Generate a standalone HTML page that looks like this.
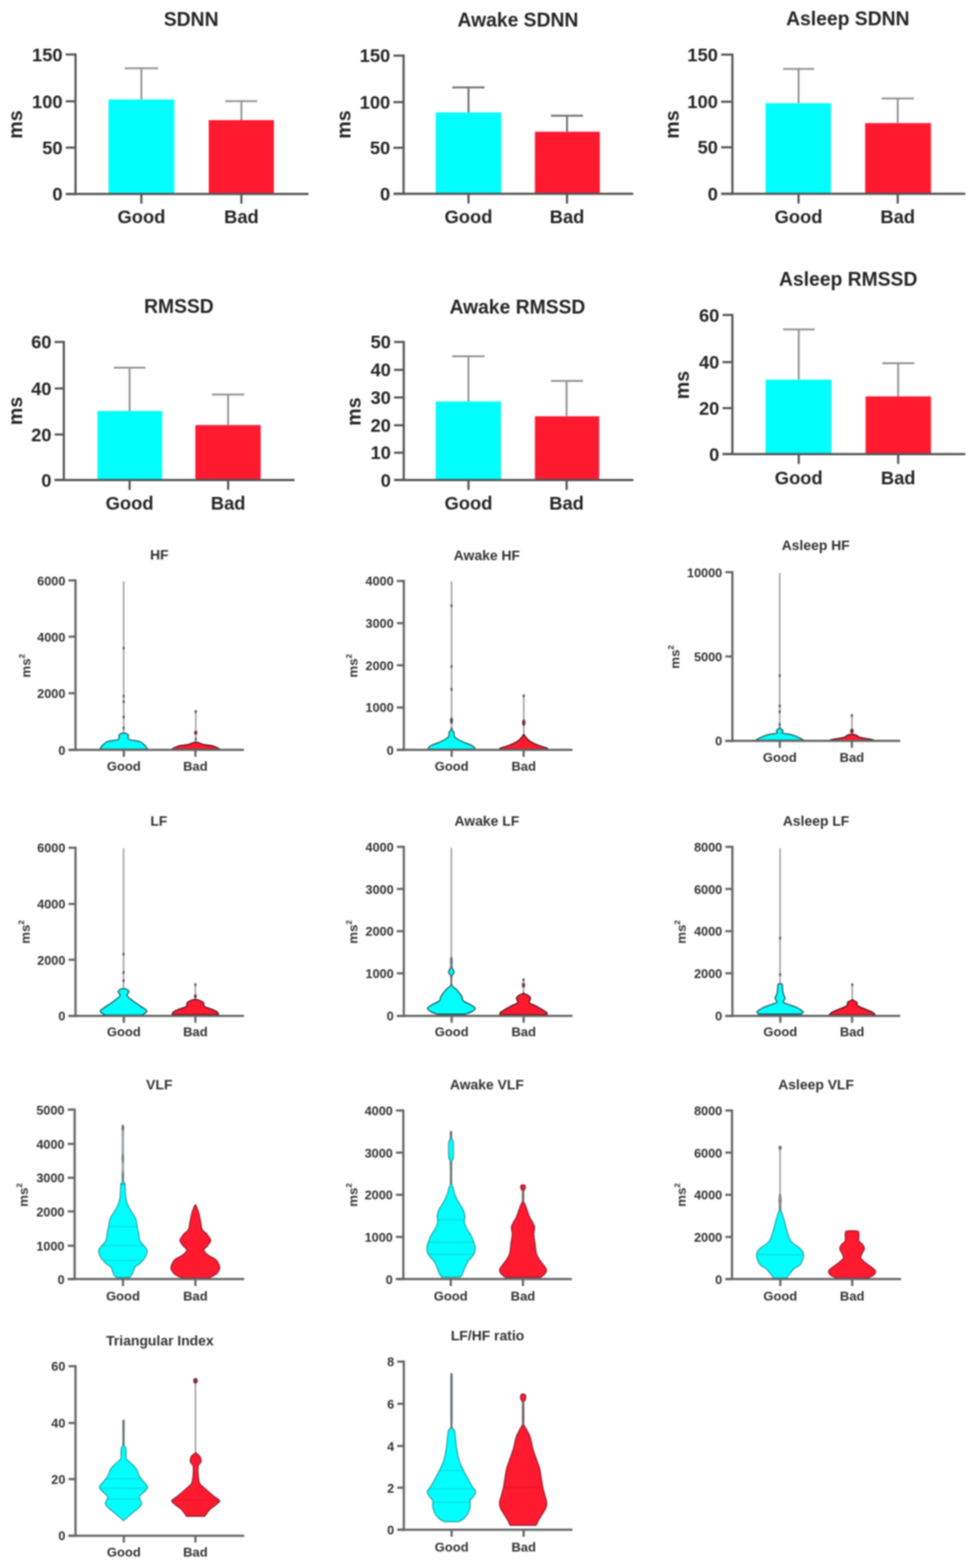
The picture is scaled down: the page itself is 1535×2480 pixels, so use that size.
<!DOCTYPE html>
<html><head><meta charset="utf-8"><title>HRV figure</title>
<style>html,body{margin:0;padding:0;background:#fff;} svg{display:block;filter:blur(0.8px);}</style>
</head><body>
<svg width="1535" height="2480" viewBox="0 0 1535 2480" font-family="'Liberation Sans', Arial, sans-serif">
<rect x="171.5" y="157.4" width="104.0" height="149.3" fill="#00FFFF"/>
<rect x="330.0" y="190.0" width="103.0" height="116.7" fill="#FF1A30"/>
<line x1="223.5" y1="157.4" x2="223.5" y2="108.0" stroke="#939393" stroke-width="3" stroke-linecap="butt"/>
<line x1="197.0" y1="108.0" x2="250.0" y2="108.0" stroke="#939393" stroke-width="3" stroke-linecap="butt"/>
<line x1="381.6" y1="190.0" x2="381.6" y2="160.0" stroke="#939393" stroke-width="3" stroke-linecap="butt"/>
<line x1="356.0" y1="160.0" x2="406.5" y2="160.0" stroke="#939393" stroke-width="3" stroke-linecap="butt"/>
<line x1="119.4" y1="84.5" x2="119.4" y2="308.4" stroke="#545454" stroke-width="3.4" stroke-linecap="butt"/>
<line x1="104.0" y1="86.2" x2="119.4" y2="86.2" stroke="#545454" stroke-width="3.4" stroke-linecap="butt"/>
<text x="99.0" y="96.5" font-size="29" text-anchor="end" font-weight="bold" fill="#262626" >150</text>
<line x1="104.0" y1="160.2" x2="119.4" y2="160.2" stroke="#545454" stroke-width="3.4" stroke-linecap="butt"/>
<text x="99.0" y="170.5" font-size="29" text-anchor="end" font-weight="bold" fill="#262626" >100</text>
<line x1="104.0" y1="233.5" x2="119.4" y2="233.5" stroke="#545454" stroke-width="3.4" stroke-linecap="butt"/>
<text x="99.0" y="243.8" font-size="29" text-anchor="end" font-weight="bold" fill="#262626" >50</text>
<line x1="104.0" y1="306.7" x2="119.4" y2="306.7" stroke="#545454" stroke-width="3.4" stroke-linecap="butt"/>
<text x="99.0" y="317.0" font-size="29" text-anchor="end" font-weight="bold" fill="#262626" >0</text>
<line x1="104.0" y1="306.7" x2="487.6" y2="306.7" stroke="#545454" stroke-width="3.4" stroke-linecap="butt"/>
<line x1="223.5" y1="306.7" x2="223.5" y2="322.2" stroke="#545454" stroke-width="3.4" stroke-linecap="butt"/>
<text x="223.5" y="352.5" font-size="29" text-anchor="middle" font-weight="bold" fill="#262626" >Good</text>
<line x1="381.6" y1="306.7" x2="381.6" y2="322.2" stroke="#545454" stroke-width="3.4" stroke-linecap="butt"/>
<text x="381.6" y="352.5" font-size="29" text-anchor="middle" font-weight="bold" fill="#262626" >Bad</text>
<text x="302.2" y="40.6" font-size="30.5" text-anchor="middle" font-weight="bold" fill="#262626" >SDNN</text>
<text x="0" y="0" font-size="31" text-anchor="middle" font-weight="bold" fill="#262626" transform="translate(34.8,197.0) rotate(-90)">ms</text>
<rect x="688.8" y="177.8" width="103.6" height="128.7" fill="#00FFFF"/>
<rect x="845.6" y="208.3" width="102.6" height="98.2" fill="#FF1A30"/>
<line x1="740.6" y1="177.8" x2="740.6" y2="138.2" stroke="#6e6e6e" stroke-width="3" stroke-linecap="butt"/>
<line x1="715.0" y1="138.2" x2="766.0" y2="138.2" stroke="#6e6e6e" stroke-width="3" stroke-linecap="butt"/>
<line x1="896.4" y1="208.3" x2="896.4" y2="182.9" stroke="#6e6e6e" stroke-width="3" stroke-linecap="butt"/>
<line x1="871.0" y1="182.9" x2="921.7" y2="182.9" stroke="#6e6e6e" stroke-width="3" stroke-linecap="butt"/>
<line x1="638.0" y1="86.3" x2="638.0" y2="308.2" stroke="#545454" stroke-width="3.4" stroke-linecap="butt"/>
<line x1="622.0" y1="88.0" x2="638.0" y2="88.0" stroke="#545454" stroke-width="3.4" stroke-linecap="butt"/>
<text x="617.0" y="98.3" font-size="29" text-anchor="end" font-weight="bold" fill="#262626" >150</text>
<line x1="622.0" y1="161.5" x2="638.0" y2="161.5" stroke="#545454" stroke-width="3.4" stroke-linecap="butt"/>
<text x="617.0" y="171.8" font-size="29" text-anchor="end" font-weight="bold" fill="#262626" >100</text>
<line x1="622.0" y1="233.7" x2="638.0" y2="233.7" stroke="#545454" stroke-width="3.4" stroke-linecap="butt"/>
<text x="617.0" y="244.0" font-size="29" text-anchor="end" font-weight="bold" fill="#262626" >50</text>
<line x1="622.0" y1="306.5" x2="638.0" y2="306.5" stroke="#545454" stroke-width="3.4" stroke-linecap="butt"/>
<text x="617.0" y="316.8" font-size="29" text-anchor="end" font-weight="bold" fill="#262626" >0</text>
<line x1="622.0" y1="306.5" x2="1001.0" y2="306.5" stroke="#545454" stroke-width="3.4" stroke-linecap="butt"/>
<line x1="740.6" y1="306.5" x2="740.6" y2="322.0" stroke="#545454" stroke-width="3.4" stroke-linecap="butt"/>
<text x="740.6" y="352.5" font-size="29" text-anchor="middle" font-weight="bold" fill="#262626" >Good</text>
<line x1="896.4" y1="306.5" x2="896.4" y2="322.0" stroke="#545454" stroke-width="3.4" stroke-linecap="butt"/>
<text x="896.4" y="352.5" font-size="29" text-anchor="middle" font-weight="bold" fill="#262626" >Bad</text>
<text x="818.8" y="42.3" font-size="30.5" text-anchor="middle" font-weight="bold" fill="#262626" >Awake SDNN</text>
<text x="0" y="0" font-size="31" text-anchor="middle" font-weight="bold" fill="#262626" transform="translate(554.0,197.0) rotate(-90)">ms</text>
<rect x="1210.3" y="163.2" width="103.3" height="143.3" fill="#00FFFF"/>
<rect x="1367.7" y="194.7" width="104.0" height="111.8" fill="#FF1A30"/>
<line x1="1262.4" y1="163.2" x2="1262.4" y2="109.0" stroke="#939393" stroke-width="3" stroke-linecap="butt"/>
<line x1="1238.0" y1="109.0" x2="1287.0" y2="109.0" stroke="#939393" stroke-width="3" stroke-linecap="butt"/>
<line x1="1419.2" y1="194.7" x2="1419.2" y2="155.8" stroke="#939393" stroke-width="3" stroke-linecap="butt"/>
<line x1="1393.8" y1="155.8" x2="1444.6" y2="155.8" stroke="#939393" stroke-width="3" stroke-linecap="butt"/>
<line x1="1157.8" y1="84.7" x2="1157.8" y2="308.2" stroke="#545454" stroke-width="3.4" stroke-linecap="butt"/>
<line x1="1140.0" y1="86.4" x2="1157.8" y2="86.4" stroke="#545454" stroke-width="3.4" stroke-linecap="butt"/>
<text x="1135.0" y="96.7" font-size="29" text-anchor="end" font-weight="bold" fill="#262626" >150</text>
<line x1="1140.0" y1="160.9" x2="1157.8" y2="160.9" stroke="#545454" stroke-width="3.4" stroke-linecap="butt"/>
<text x="1135.0" y="171.2" font-size="29" text-anchor="end" font-weight="bold" fill="#262626" >100</text>
<line x1="1140.0" y1="233.0" x2="1157.8" y2="233.0" stroke="#545454" stroke-width="3.4" stroke-linecap="butt"/>
<text x="1135.0" y="243.3" font-size="29" text-anchor="end" font-weight="bold" fill="#262626" >50</text>
<line x1="1140.0" y1="306.5" x2="1157.8" y2="306.5" stroke="#545454" stroke-width="3.4" stroke-linecap="butt"/>
<text x="1135.0" y="316.8" font-size="29" text-anchor="end" font-weight="bold" fill="#262626" >0</text>
<line x1="1140.0" y1="306.5" x2="1526.0" y2="306.5" stroke="#545454" stroke-width="3.4" stroke-linecap="butt"/>
<line x1="1262.4" y1="306.5" x2="1262.4" y2="322.0" stroke="#545454" stroke-width="3.4" stroke-linecap="butt"/>
<text x="1262.4" y="352.5" font-size="29" text-anchor="middle" font-weight="bold" fill="#262626" >Good</text>
<line x1="1419.2" y1="306.5" x2="1419.2" y2="322.0" stroke="#545454" stroke-width="3.4" stroke-linecap="butt"/>
<text x="1419.2" y="352.5" font-size="29" text-anchor="middle" font-weight="bold" fill="#262626" >Bad</text>
<text x="1340.3" y="40.3" font-size="30.5" text-anchor="middle" font-weight="bold" fill="#262626" >Asleep SDNN</text>
<text x="0" y="0" font-size="31" text-anchor="middle" font-weight="bold" fill="#262626" transform="translate(1073.0,197.0) rotate(-90)">ms</text>
<rect x="154.0" y="650.0" width="102.3" height="109.3" fill="#00FFFF"/>
<rect x="308.8" y="672.3" width="103.3" height="87.0" fill="#FF1A30"/>
<line x1="204.9" y1="650.0" x2="204.9" y2="581.5" stroke="#939393" stroke-width="3" stroke-linecap="butt"/>
<line x1="180.0" y1="581.5" x2="230.0" y2="581.5" stroke="#939393" stroke-width="3" stroke-linecap="butt"/>
<line x1="360.6" y1="672.3" x2="360.6" y2="623.9" stroke="#939393" stroke-width="3" stroke-linecap="butt"/>
<line x1="335.0" y1="623.9" x2="386.0" y2="623.9" stroke="#939393" stroke-width="3" stroke-linecap="butt"/>
<line x1="100.9" y1="539.2" x2="100.9" y2="761.0" stroke="#545454" stroke-width="3.4" stroke-linecap="butt"/>
<line x1="86.4" y1="540.9" x2="100.9" y2="540.9" stroke="#545454" stroke-width="3.4" stroke-linecap="butt"/>
<text x="81.4" y="551.2" font-size="29" text-anchor="end" font-weight="bold" fill="#262626" >60</text>
<line x1="86.4" y1="614.4" x2="100.9" y2="614.4" stroke="#545454" stroke-width="3.4" stroke-linecap="butt"/>
<text x="81.4" y="624.7" font-size="29" text-anchor="end" font-weight="bold" fill="#262626" >40</text>
<line x1="86.4" y1="687.2" x2="100.9" y2="687.2" stroke="#545454" stroke-width="3.4" stroke-linecap="butt"/>
<text x="81.4" y="697.5" font-size="29" text-anchor="end" font-weight="bold" fill="#262626" >20</text>
<line x1="86.4" y1="759.3" x2="100.9" y2="759.3" stroke="#545454" stroke-width="3.4" stroke-linecap="butt"/>
<text x="81.4" y="769.6" font-size="29" text-anchor="end" font-weight="bold" fill="#262626" >0</text>
<line x1="86.4" y1="759.3" x2="465.6" y2="759.3" stroke="#545454" stroke-width="3.4" stroke-linecap="butt"/>
<line x1="204.9" y1="759.3" x2="204.9" y2="774.8" stroke="#545454" stroke-width="3.4" stroke-linecap="butt"/>
<text x="204.9" y="805.7" font-size="29" text-anchor="middle" font-weight="bold" fill="#262626" >Good</text>
<line x1="360.6" y1="759.3" x2="360.6" y2="774.8" stroke="#545454" stroke-width="3.4" stroke-linecap="butt"/>
<text x="360.6" y="805.7" font-size="29" text-anchor="middle" font-weight="bold" fill="#262626" >Bad</text>
<text x="282.8" y="494.9" font-size="30.5" text-anchor="middle" font-weight="bold" fill="#262626" >RMSSD</text>
<text x="0" y="0" font-size="31" text-anchor="middle" font-weight="bold" fill="#262626" transform="translate(35.0,650.0) rotate(-90)">ms</text>
<rect x="688.8" y="635.0" width="103.2" height="124.3" fill="#00FFFF"/>
<rect x="845.6" y="658.4" width="101.6" height="100.9" fill="#FF1A30"/>
<line x1="740.6" y1="635.0" x2="740.6" y2="563.6" stroke="#939393" stroke-width="3" stroke-linecap="butt"/>
<line x1="715.0" y1="563.6" x2="766.0" y2="563.6" stroke="#939393" stroke-width="3" stroke-linecap="butt"/>
<line x1="895.7" y1="658.4" x2="895.7" y2="602.5" stroke="#939393" stroke-width="3" stroke-linecap="butt"/>
<line x1="871.0" y1="602.5" x2="921.7" y2="602.5" stroke="#939393" stroke-width="3" stroke-linecap="butt"/>
<line x1="638.3" y1="539.2" x2="638.3" y2="761.0" stroke="#545454" stroke-width="3.4" stroke-linecap="butt"/>
<line x1="623.0" y1="540.9" x2="638.3" y2="540.9" stroke="#545454" stroke-width="3.4" stroke-linecap="butt"/>
<text x="618.0" y="551.2" font-size="29" text-anchor="end" font-weight="bold" fill="#262626" >50</text>
<line x1="623.0" y1="585.0" x2="638.3" y2="585.0" stroke="#545454" stroke-width="3.4" stroke-linecap="butt"/>
<text x="618.0" y="595.3" font-size="29" text-anchor="end" font-weight="bold" fill="#262626" >40</text>
<line x1="623.0" y1="628.6" x2="638.3" y2="628.6" stroke="#545454" stroke-width="3.4" stroke-linecap="butt"/>
<text x="618.0" y="638.9" font-size="29" text-anchor="end" font-weight="bold" fill="#262626" >30</text>
<line x1="623.0" y1="672.6" x2="638.3" y2="672.6" stroke="#545454" stroke-width="3.4" stroke-linecap="butt"/>
<text x="618.0" y="682.9" font-size="29" text-anchor="end" font-weight="bold" fill="#262626" >20</text>
<line x1="623.0" y1="716.0" x2="638.3" y2="716.0" stroke="#545454" stroke-width="3.4" stroke-linecap="butt"/>
<text x="618.0" y="726.3" font-size="29" text-anchor="end" font-weight="bold" fill="#262626" >10</text>
<line x1="623.0" y1="759.3" x2="638.3" y2="759.3" stroke="#545454" stroke-width="3.4" stroke-linecap="butt"/>
<text x="618.0" y="769.6" font-size="29" text-anchor="end" font-weight="bold" fill="#262626" >0</text>
<line x1="623.0" y1="759.3" x2="1001.3" y2="759.3" stroke="#545454" stroke-width="3.4" stroke-linecap="butt"/>
<line x1="740.6" y1="759.3" x2="740.6" y2="774.8" stroke="#545454" stroke-width="3.4" stroke-linecap="butt"/>
<text x="740.6" y="805.7" font-size="29" text-anchor="middle" font-weight="bold" fill="#262626" >Good</text>
<line x1="895.7" y1="759.3" x2="895.7" y2="774.8" stroke="#545454" stroke-width="3.4" stroke-linecap="butt"/>
<text x="895.7" y="805.7" font-size="29" text-anchor="middle" font-weight="bold" fill="#262626" >Bad</text>
<text x="818.0" y="495.9" font-size="30.5" text-anchor="middle" font-weight="bold" fill="#262626" >Awake RMSSD</text>
<text x="0" y="0" font-size="31" text-anchor="middle" font-weight="bold" fill="#262626" transform="translate(570.0,651.0) rotate(-90)">ms</text>
<rect x="1210.3" y="600.5" width="103.9" height="117.8" fill="#00FFFF"/>
<rect x="1368.4" y="626.9" width="103.3" height="91.4" fill="#FF1A30"/>
<line x1="1262.7" y1="600.5" x2="1262.7" y2="520.9" stroke="#939393" stroke-width="3" stroke-linecap="butt"/>
<line x1="1238.0" y1="520.9" x2="1288.0" y2="520.9" stroke="#939393" stroke-width="3" stroke-linecap="butt"/>
<line x1="1419.9" y1="626.9" x2="1419.9" y2="574.4" stroke="#939393" stroke-width="3" stroke-linecap="butt"/>
<line x1="1394.8" y1="574.4" x2="1445.6" y2="574.4" stroke="#939393" stroke-width="3" stroke-linecap="butt"/>
<line x1="1157.8" y1="496.5" x2="1157.8" y2="720.0" stroke="#545454" stroke-width="3.4" stroke-linecap="butt"/>
<line x1="1142.2" y1="498.2" x2="1157.8" y2="498.2" stroke="#545454" stroke-width="3.4" stroke-linecap="butt"/>
<text x="1137.2" y="508.5" font-size="29" text-anchor="end" font-weight="bold" fill="#262626" >60</text>
<line x1="1142.2" y1="572.7" x2="1157.8" y2="572.7" stroke="#545454" stroke-width="3.4" stroke-linecap="butt"/>
<text x="1137.2" y="583.0" font-size="29" text-anchor="end" font-weight="bold" fill="#262626" >40</text>
<line x1="1142.2" y1="645.5" x2="1157.8" y2="645.5" stroke="#545454" stroke-width="3.4" stroke-linecap="butt"/>
<text x="1137.2" y="655.8" font-size="29" text-anchor="end" font-weight="bold" fill="#262626" >20</text>
<line x1="1142.2" y1="718.3" x2="1157.8" y2="718.3" stroke="#545454" stroke-width="3.4" stroke-linecap="butt"/>
<text x="1137.2" y="728.6" font-size="29" text-anchor="end" font-weight="bold" fill="#262626" >0</text>
<line x1="1142.2" y1="718.3" x2="1526.0" y2="718.3" stroke="#545454" stroke-width="3.4" stroke-linecap="butt"/>
<line x1="1262.7" y1="718.3" x2="1262.7" y2="733.8" stroke="#545454" stroke-width="3.4" stroke-linecap="butt"/>
<text x="1262.7" y="765.7" font-size="29" text-anchor="middle" font-weight="bold" fill="#262626" >Good</text>
<line x1="1419.9" y1="718.3" x2="1419.9" y2="733.8" stroke="#545454" stroke-width="3.4" stroke-linecap="butt"/>
<text x="1419.9" y="765.7" font-size="29" text-anchor="middle" font-weight="bold" fill="#262626" >Bad</text>
<text x="1340.9" y="451.5" font-size="30.5" text-anchor="middle" font-weight="bold" fill="#262626" >Asleep RMSSD</text>
<text x="0" y="0" font-size="31" text-anchor="middle" font-weight="bold" fill="#262626" transform="translate(1089.0,609.0) rotate(-90)">ms</text>
<line x1="195.5" y1="919.4" x2="195.5" y2="1160.0" stroke="#8e8e8e" stroke-width="2.0" stroke-linecap="butt"/>
<line x1="309.5" y1="1124.4" x2="309.5" y2="1174.0" stroke="#8e8e8e" stroke-width="2.0" stroke-linecap="butt"/>
<path d="M200.50,1160.50 C200.93,1160.92 202.77,1161.92 203.10,1163.00 C203.43,1164.08 202.10,1165.83 202.50,1167.00 C202.90,1168.17 202.33,1169.00 205.50,1170.00 C208.67,1171.00 217.50,1171.42 221.50,1173.00 C225.50,1174.58 227.55,1177.53 229.50,1179.50 C231.45,1181.47 232.58,1183.92 233.20,1184.80 L157.80,1184.80 C158.42,1183.92 159.55,1181.47 161.50,1179.50 C163.45,1177.53 165.50,1174.58 169.50,1173.00 C173.50,1171.42 182.33,1171.00 185.50,1170.00 C188.67,1169.00 188.10,1168.17 188.50,1167.00 C188.90,1165.83 187.57,1164.08 187.90,1163.00 C188.23,1161.92 190.07,1160.92 190.50,1160.50 Q195.50,1158.10 200.50,1160.50 Z" fill="#00FFFF" stroke="#1d5555" stroke-width="1.8" stroke-linejoin="round"/>
<path d="M316.50,1175.50 C317.67,1175.92 320.00,1177.25 323.50,1178.00 C327.00,1178.75 333.50,1178.87 337.50,1180.00 C341.50,1181.13 345.83,1184.00 347.50,1184.80 L271.50,1184.80 C273.17,1184.00 277.50,1181.13 281.50,1180.00 C285.50,1178.87 292.00,1178.75 295.50,1178.00 C299.00,1177.25 301.33,1175.92 302.50,1175.50 Q309.50,1172.30 316.50,1175.50 Z" fill="#FF1A30" stroke="#4a0c14" stroke-width="1.8" stroke-linejoin="round"/>
<ellipse cx="195.5" cy="1025.0" rx="1.8" ry="2.6" fill="#555555"/>
<ellipse cx="195.5" cy="1101.0" rx="1.8" ry="2.6" fill="#555555"/>
<ellipse cx="195.5" cy="1109.7" rx="1.8" ry="2.6" fill="#555555"/>
<ellipse cx="195.5" cy="1133.9" rx="1.8" ry="2.6" fill="#555555"/>
<ellipse cx="195.5" cy="1151.4" rx="1.8" ry="2.6" fill="#555555"/>
<ellipse cx="309.5" cy="1125.3" rx="1.8" ry="2.6" fill="#555555"/>
<ellipse cx="309.5" cy="1159.0" rx="2.6" ry="3.2" fill="#7a2a38"/>
<ellipse cx="309.5" cy="1169.0" rx="1.8" ry="2.6" fill="#555555"/>
<line x1="119.4" y1="916.2" x2="119.4" y2="1187.8" stroke="#666666" stroke-width="3.5" stroke-linecap="butt"/>
<line x1="108.3" y1="918.0" x2="119.4" y2="918.0" stroke="#666666" stroke-width="3.5" stroke-linecap="butt"/>
<text x="103.3" y="925.5" font-size="20" text-anchor="end" font-weight="bold" fill="#333333" >6000</text>
<line x1="108.3" y1="1007.0" x2="119.4" y2="1007.0" stroke="#666666" stroke-width="3.5" stroke-linecap="butt"/>
<text x="103.3" y="1014.5" font-size="20" text-anchor="end" font-weight="bold" fill="#333333" >4000</text>
<line x1="108.3" y1="1096.4" x2="119.4" y2="1096.4" stroke="#666666" stroke-width="3.5" stroke-linecap="butt"/>
<text x="103.3" y="1103.9" font-size="20" text-anchor="end" font-weight="bold" fill="#333333" >2000</text>
<line x1="108.3" y1="1186.0" x2="119.4" y2="1186.0" stroke="#666666" stroke-width="3.5" stroke-linecap="butt"/>
<text x="103.3" y="1193.5" font-size="20" text-anchor="end" font-weight="bold" fill="#333333" >0</text>
<line x1="108.3" y1="1186.0" x2="385.6" y2="1186.0" stroke="#666666" stroke-width="3.5" stroke-linecap="butt"/>
<line x1="195.8" y1="1186.0" x2="195.8" y2="1197.0" stroke="#666666" stroke-width="3.5" stroke-linecap="butt"/>
<text x="195.8" y="1219.4" font-size="20.5" text-anchor="middle" font-weight="bold" fill="#333333" >Good</text>
<line x1="308.9" y1="1186.0" x2="308.9" y2="1197.0" stroke="#666666" stroke-width="3.5" stroke-linecap="butt"/>
<text x="308.9" y="1219.4" font-size="20.5" text-anchor="middle" font-weight="bold" fill="#333333" >Bad</text>
<text x="251.8" y="884.7" font-size="22" text-anchor="middle" font-weight="bold" fill="#333333" >HF</text>
<text x="0" y="0" font-size="21" text-anchor="middle" font-weight="bold" fill="#333333" transform="translate(48.0,1053.0) rotate(-90)">ms<tspan font-size="13" dy="-9">2</tspan></text>
<line x1="713.8" y1="919.4" x2="713.8" y2="1153.0" stroke="#8e8e8e" stroke-width="2.0" stroke-linecap="butt"/>
<line x1="828.0" y1="1100.4" x2="828.0" y2="1162.0" stroke="#8e8e8e" stroke-width="2.0" stroke-linecap="butt"/>
<path d="M714.90,1155.00 C715.38,1155.60 717.25,1157.03 717.80,1158.60 C718.35,1160.17 716.93,1162.47 718.20,1164.40 C719.47,1166.33 722.63,1168.50 725.40,1170.20 C728.17,1171.90 731.40,1173.13 734.80,1174.60 C738.20,1176.07 743.13,1177.55 745.80,1179.00 C748.47,1180.45 749.97,1182.30 750.80,1183.30 C751.63,1184.30 750.80,1184.72 750.80,1185.00 L676.80,1185.00 C676.80,1184.72 675.97,1184.30 676.80,1183.30 C677.63,1182.30 679.13,1180.45 681.80,1179.00 C684.47,1177.55 689.40,1176.07 692.80,1174.60 C696.20,1173.13 699.43,1171.90 702.20,1170.20 C704.97,1168.50 708.13,1166.33 709.40,1164.40 C710.67,1162.47 709.25,1160.17 709.80,1158.60 C710.35,1157.03 712.22,1155.60 712.70,1155.00 Q713.80,1151.32 714.90,1155.00 Z" fill="#00FFFF" stroke="#1d5555" stroke-width="1.8" stroke-linejoin="round"/>
<path d="M829.10,1163.00 C829.65,1163.72 830.77,1165.63 832.40,1167.30 C834.03,1168.97 835.63,1171.05 838.90,1173.00 C842.17,1174.95 847.65,1177.28 852.00,1179.00 C856.35,1180.72 862.83,1182.30 865.00,1183.30 C867.17,1184.30 865.00,1184.72 865.00,1185.00 L791.00,1185.00 C791.00,1184.72 788.83,1184.30 791.00,1183.30 C793.17,1182.30 799.65,1180.72 804.00,1179.00 C808.35,1177.28 813.83,1174.95 817.10,1173.00 C820.37,1171.05 821.97,1168.97 823.60,1167.30 C825.23,1165.63 826.35,1163.72 826.90,1163.00 Q828.00,1159.80 829.10,1163.00 Z" fill="#FF1A30" stroke="#4a0c14" stroke-width="1.8" stroke-linejoin="round"/>
<ellipse cx="713.8" cy="958.0" rx="1.8" ry="2.6" fill="#555555"/>
<ellipse cx="713.8" cy="1054.0" rx="1.8" ry="2.6" fill="#555555"/>
<ellipse cx="713.8" cy="1090.2" rx="1.8" ry="2.6" fill="#555555"/>
<ellipse cx="713.8" cy="1140.0" rx="2.4" ry="5" fill="#505050"/>
<ellipse cx="713.8" cy="1152.7" rx="1.8" ry="2.6" fill="#555555"/>
<ellipse cx="828.0" cy="1100.6" rx="1.8" ry="2.6" fill="#555555"/>
<ellipse cx="828.0" cy="1143.0" rx="2.6" ry="5" fill="#6a2a34"/>
<line x1="638.4" y1="917.1" x2="638.4" y2="1187.8" stroke="#666666" stroke-width="3.5" stroke-linecap="butt"/>
<line x1="627.3" y1="918.9" x2="638.4" y2="918.9" stroke="#666666" stroke-width="3.5" stroke-linecap="butt"/>
<text x="622.3" y="926.4" font-size="20" text-anchor="end" font-weight="bold" fill="#333333" >4000</text>
<line x1="627.3" y1="985.6" x2="638.4" y2="985.6" stroke="#666666" stroke-width="3.5" stroke-linecap="butt"/>
<text x="622.3" y="993.1" font-size="20" text-anchor="end" font-weight="bold" fill="#333333" >3000</text>
<line x1="627.3" y1="1052.2" x2="638.4" y2="1052.2" stroke="#666666" stroke-width="3.5" stroke-linecap="butt"/>
<text x="622.3" y="1059.7" font-size="20" text-anchor="end" font-weight="bold" fill="#333333" >2000</text>
<line x1="627.3" y1="1118.9" x2="638.4" y2="1118.9" stroke="#666666" stroke-width="3.5" stroke-linecap="butt"/>
<text x="622.3" y="1126.4" font-size="20" text-anchor="end" font-weight="bold" fill="#333333" >1000</text>
<line x1="627.3" y1="1186.0" x2="638.4" y2="1186.0" stroke="#666666" stroke-width="3.5" stroke-linecap="butt"/>
<text x="622.3" y="1193.5" font-size="20" text-anchor="end" font-weight="bold" fill="#333333" >0</text>
<line x1="627.3" y1="1186.0" x2="905.0" y2="1186.0" stroke="#666666" stroke-width="3.5" stroke-linecap="butt"/>
<line x1="714.0" y1="1186.0" x2="714.0" y2="1197.0" stroke="#666666" stroke-width="3.5" stroke-linecap="butt"/>
<text x="714.0" y="1219.4" font-size="20.5" text-anchor="middle" font-weight="bold" fill="#333333" >Good</text>
<line x1="827.8" y1="1186.0" x2="827.8" y2="1197.0" stroke="#666666" stroke-width="3.5" stroke-linecap="butt"/>
<text x="827.8" y="1219.4" font-size="20.5" text-anchor="middle" font-weight="bold" fill="#333333" >Bad</text>
<text x="769.7" y="885.6" font-size="22" text-anchor="middle" font-weight="bold" fill="#333333" >Awake HF</text>
<text x="0" y="0" font-size="21" text-anchor="middle" font-weight="bold" fill="#333333" transform="translate(564.5,1053.0) rotate(-90)">ms<tspan font-size="13" dy="-9">2</tspan></text>
<line x1="1232.6" y1="906.4" x2="1232.6" y2="1151.0" stroke="#8e8e8e" stroke-width="2.0" stroke-linecap="butt"/>
<line x1="1346.8" y1="1131.3" x2="1346.8" y2="1161.0" stroke="#8e8e8e" stroke-width="2.0" stroke-linecap="butt"/>
<path d="M1233.70,1152.00 C1234.42,1152.67 1237.52,1154.75 1238.00,1156.00 C1238.48,1157.25 1234.50,1158.53 1236.60,1159.50 C1238.70,1160.47 1246.27,1160.68 1250.60,1161.80 C1254.93,1162.92 1259.30,1164.73 1262.60,1166.20 C1265.90,1167.67 1269.10,1169.87 1270.40,1170.60 L1194.80,1170.60 C1196.10,1169.87 1199.30,1167.67 1202.60,1166.20 C1205.90,1164.73 1210.27,1162.92 1214.60,1161.80 C1218.93,1160.68 1226.50,1160.47 1228.60,1159.50 C1230.70,1158.53 1226.72,1157.25 1227.20,1156.00 C1227.68,1154.75 1230.78,1152.67 1231.50,1152.00 Q1232.60,1148.80 1233.70,1152.00 Z" fill="#00FFFF" stroke="#1d5555" stroke-width="1.8" stroke-linejoin="round"/>
<path d="M1354.80,1163.30 C1355.53,1163.78 1355.87,1165.25 1359.20,1166.20 C1362.53,1167.15 1370.70,1168.20 1374.80,1169.00 C1378.90,1169.80 1382.30,1170.67 1383.80,1171.00 L1309.80,1171.00 C1311.30,1170.67 1314.70,1169.80 1318.80,1169.00 C1322.90,1168.20 1331.07,1167.15 1334.40,1166.20 C1337.73,1165.25 1338.07,1163.78 1338.80,1163.30 Q1346.80,1158.82 1354.80,1163.30 Z" fill="#FF1A30" stroke="#4a0c14" stroke-width="1.8" stroke-linejoin="round"/>
<ellipse cx="1232.6" cy="1068.7" rx="1.8" ry="2.6" fill="#555555"/>
<ellipse cx="1232.6" cy="1116.7" rx="1.8" ry="2.6" fill="#555555"/>
<ellipse cx="1232.6" cy="1125.5" rx="1.8" ry="2.6" fill="#555555"/>
<ellipse cx="1232.6" cy="1145.8" rx="1.8" ry="2.6" fill="#555555"/>
<ellipse cx="1346.8" cy="1131.6" rx="1.8" ry="2.6" fill="#555555"/>
<ellipse cx="1346.8" cy="1156.0" rx="3" ry="3.6" fill="#6a2a34"/>
<line x1="1157.8" y1="903.2" x2="1157.8" y2="1173.5" stroke="#666666" stroke-width="3.5" stroke-linecap="butt"/>
<line x1="1146.7" y1="905.0" x2="1157.8" y2="905.0" stroke="#666666" stroke-width="3.5" stroke-linecap="butt"/>
<text x="1141.7" y="912.5" font-size="20" text-anchor="end" font-weight="bold" fill="#333333" >10000</text>
<line x1="1146.7" y1="1038.3" x2="1157.8" y2="1038.3" stroke="#666666" stroke-width="3.5" stroke-linecap="butt"/>
<text x="1141.7" y="1045.8" font-size="20" text-anchor="end" font-weight="bold" fill="#333333" >5000</text>
<line x1="1146.7" y1="1171.7" x2="1157.8" y2="1171.7" stroke="#666666" stroke-width="3.5" stroke-linecap="butt"/>
<text x="1141.7" y="1179.2" font-size="20" text-anchor="end" font-weight="bold" fill="#333333" >0</text>
<line x1="1146.7" y1="1171.7" x2="1423.0" y2="1171.7" stroke="#666666" stroke-width="3.5" stroke-linecap="butt"/>
<line x1="1232.8" y1="1171.7" x2="1232.8" y2="1182.7" stroke="#666666" stroke-width="3.5" stroke-linecap="butt"/>
<text x="1232.8" y="1205.0" font-size="20.5" text-anchor="middle" font-weight="bold" fill="#333333" >Good</text>
<line x1="1346.7" y1="1171.7" x2="1346.7" y2="1182.7" stroke="#666666" stroke-width="3.5" stroke-linecap="butt"/>
<text x="1346.7" y="1205.0" font-size="20.5" text-anchor="middle" font-weight="bold" fill="#333333" >Bad</text>
<text x="1289.5" y="869.5" font-size="22" text-anchor="middle" font-weight="bold" fill="#333333" >Asleep HF</text>
<text x="0" y="0" font-size="21" text-anchor="middle" font-weight="bold" fill="#333333" transform="translate(1073.6,1039.0) rotate(-90)">ms<tspan font-size="13" dy="-9">2</tspan></text>
<line x1="195.3" y1="1341.7" x2="195.3" y2="1564.0" stroke="#8e8e8e" stroke-width="2.0" stroke-linecap="butt"/>
<line x1="308.8" y1="1557.0" x2="308.8" y2="1581.0" stroke="#8e8e8e" stroke-width="2.0" stroke-linecap="butt"/>
<path d="M200.30,1564.50 C200.92,1565.18 203.93,1566.95 204.00,1568.60 C204.07,1570.25 200.27,1572.47 200.70,1574.40 C201.13,1576.33 204.00,1578.02 206.60,1580.20 C209.20,1582.38 212.85,1585.07 216.30,1587.50 C219.75,1589.93 224.63,1592.88 227.30,1594.80 C229.97,1596.72 232.18,1597.55 232.30,1599.00 C232.42,1600.45 229.50,1602.42 228.00,1603.50 C226.50,1604.58 224.08,1605.17 223.30,1605.50 L167.30,1605.50 C166.52,1605.17 164.10,1604.58 162.60,1603.50 C161.10,1602.42 158.18,1600.45 158.30,1599.00 C158.42,1597.55 160.63,1596.72 163.30,1594.80 C165.97,1592.88 170.85,1589.93 174.30,1587.50 C177.75,1585.07 181.40,1582.38 184.00,1580.20 C186.60,1578.02 189.47,1576.33 189.90,1574.40 C190.33,1572.47 186.53,1570.25 186.60,1568.60 C186.67,1566.95 189.68,1565.18 190.30,1564.50 Q195.30,1562.90 200.30,1564.50 Z" fill="#00FFFF" stroke="#1d5555" stroke-width="1.8" stroke-linejoin="round"/>
<path d="M317.50,1583.00 C318.22,1583.50 320.83,1584.52 321.80,1586.00 C322.77,1587.48 321.13,1590.20 323.30,1591.90 C325.47,1593.60 331.38,1594.75 334.80,1596.20 C338.22,1597.65 342.02,1599.13 343.80,1600.60 C345.58,1602.07 345.22,1604.27 345.50,1605.00 L272.10,1605.00 C272.38,1604.27 272.02,1602.07 273.80,1600.60 C275.58,1599.13 279.38,1597.65 282.80,1596.20 C286.22,1594.75 292.13,1593.60 294.30,1591.90 C296.47,1590.20 294.83,1587.48 295.80,1586.00 C296.77,1584.52 299.38,1583.50 300.10,1583.00 Q308.80,1578.20 317.50,1583.00 Z" fill="#FF1A30" stroke="#4a0c14" stroke-width="1.8" stroke-linejoin="round"/>
<ellipse cx="195.3" cy="1508.9" rx="1.8" ry="2.6" fill="#555555"/>
<ellipse cx="195.3" cy="1538.0" rx="1.8" ry="2.6" fill="#555555"/>
<ellipse cx="195.3" cy="1551.0" rx="1.8" ry="2.6" fill="#555555"/>
<ellipse cx="308.8" cy="1557.3" rx="1.8" ry="2.6" fill="#555555"/>
<ellipse cx="308.8" cy="1575.8" rx="2.4" ry="3" fill="#6a3a40"/>
<line x1="119.4" y1="1339.0" x2="119.4" y2="1608.5" stroke="#666666" stroke-width="3.5" stroke-linecap="butt"/>
<line x1="108.3" y1="1340.8" x2="119.4" y2="1340.8" stroke="#666666" stroke-width="3.5" stroke-linecap="butt"/>
<text x="103.3" y="1348.3" font-size="20" text-anchor="end" font-weight="bold" fill="#333333" >6000</text>
<line x1="108.3" y1="1429.7" x2="119.4" y2="1429.7" stroke="#666666" stroke-width="3.5" stroke-linecap="butt"/>
<text x="103.3" y="1437.2" font-size="20" text-anchor="end" font-weight="bold" fill="#333333" >4000</text>
<line x1="108.3" y1="1518.0" x2="119.4" y2="1518.0" stroke="#666666" stroke-width="3.5" stroke-linecap="butt"/>
<text x="103.3" y="1525.5" font-size="20" text-anchor="end" font-weight="bold" fill="#333333" >2000</text>
<line x1="108.3" y1="1606.7" x2="119.4" y2="1606.7" stroke="#666666" stroke-width="3.5" stroke-linecap="butt"/>
<text x="103.3" y="1614.2" font-size="20" text-anchor="end" font-weight="bold" fill="#333333" >0</text>
<line x1="108.3" y1="1606.7" x2="385.6" y2="1606.7" stroke="#666666" stroke-width="3.5" stroke-linecap="butt"/>
<line x1="195.8" y1="1606.7" x2="195.8" y2="1617.7" stroke="#666666" stroke-width="3.5" stroke-linecap="butt"/>
<text x="195.8" y="1639.4" font-size="20.5" text-anchor="middle" font-weight="bold" fill="#333333" >Good</text>
<line x1="308.9" y1="1606.7" x2="308.9" y2="1617.7" stroke="#666666" stroke-width="3.5" stroke-linecap="butt"/>
<text x="308.9" y="1639.4" font-size="20.5" text-anchor="middle" font-weight="bold" fill="#333333" >Bad</text>
<text x="251.1" y="1305.6" font-size="22" text-anchor="middle" font-weight="bold" fill="#333333" >LF</text>
<text x="0" y="0" font-size="21" text-anchor="middle" font-weight="bold" fill="#333333" transform="translate(47.0,1474.0) rotate(-90)">ms<tspan font-size="13" dy="-9">2</tspan></text>
<line x1="713.5" y1="1340.8" x2="713.5" y2="1515.0" stroke="#8e8e8e" stroke-width="2.0" stroke-linecap="butt"/>
<line x1="827.6" y1="1549.5" x2="827.6" y2="1571.0" stroke="#8e8e8e" stroke-width="2.0" stroke-linecap="butt"/>
<path d="M714.60,1516.00 C714.60,1516.97 714.60,1519.47 714.60,1521.80 C714.60,1524.13 714.05,1527.33 714.60,1530.00 C715.15,1532.67 717.90,1535.53 717.90,1537.80 C717.90,1540.07 715.15,1540.20 714.60,1543.60 C714.05,1547.00 713.33,1554.55 714.60,1558.20 C715.87,1561.85 719.65,1562.58 722.20,1565.50 C724.75,1568.42 728.18,1572.78 729.90,1575.70 C731.62,1578.62 730.27,1580.82 732.50,1583.00 C734.73,1585.18 740.17,1586.87 743.30,1588.80 C746.43,1590.73 750.93,1592.67 751.30,1594.60 C751.67,1596.53 748.17,1598.83 745.50,1600.40 C742.83,1601.97 737.00,1603.40 735.30,1604.00 L691.70,1604.00 C690.00,1603.40 684.17,1601.97 681.50,1600.40 C678.83,1598.83 675.33,1596.53 675.70,1594.60 C676.07,1592.67 680.57,1590.73 683.70,1588.80 C686.83,1586.87 692.27,1585.18 694.50,1583.00 C696.73,1580.82 695.38,1578.62 697.10,1575.70 C698.82,1572.78 702.25,1568.42 704.80,1565.50 C707.35,1562.58 711.13,1561.85 712.40,1558.20 C713.67,1554.55 712.95,1547.00 712.40,1543.60 C711.85,1540.20 709.10,1540.07 709.10,1537.80 C709.10,1535.53 711.85,1532.67 712.40,1530.00 C712.95,1527.33 712.40,1524.13 712.40,1521.80 C712.40,1519.47 712.40,1516.97 712.40,1516.00 Q713.50,1513.60 714.60,1516.00 Z" fill="#00FFFF" stroke="#1d5555" stroke-width="1.8" stroke-linejoin="round"/>
<line x1="713.50" y1="1514.50" x2="713.50" y2="1530.00" stroke="#6e6e6e" stroke-width="3.0" stroke-linecap="round"/>
<line x1="713.50" y1="1543.60" x2="713.50" y2="1558.20" stroke="#6e6e6e" stroke-width="3.0" stroke-linecap="round"/>
<path d="M828.70,1571.50 C829.73,1571.95 833.20,1573.02 834.90,1574.20 C836.60,1575.38 838.62,1576.67 838.90,1578.60 C839.18,1580.53 835.48,1583.87 836.60,1585.80 C837.72,1587.73 842.37,1588.50 845.60,1590.20 C848.83,1591.90 852.83,1594.07 856.00,1596.00 C859.17,1597.93 863.17,1600.33 864.60,1601.80 C866.03,1603.27 864.60,1604.30 864.60,1604.80 L790.60,1604.80 C790.60,1604.30 789.17,1603.27 790.60,1601.80 C792.03,1600.33 796.03,1597.93 799.20,1596.00 C802.37,1594.07 806.37,1591.90 809.60,1590.20 C812.83,1588.50 817.48,1587.73 818.60,1585.80 C819.72,1583.87 816.02,1580.53 816.30,1578.60 C816.58,1576.67 818.60,1575.38 820.30,1574.20 C822.00,1573.02 825.47,1571.95 826.50,1571.50 Q827.60,1569.10 828.70,1571.50 Z" fill="#FF1A30" stroke="#4a0c14" stroke-width="1.8" stroke-linejoin="round"/>
<ellipse cx="827.6" cy="1549.7" rx="1.8" ry="2.6" fill="#555555"/>
<ellipse cx="827.6" cy="1558.2" rx="2.6" ry="4" fill="#7a3a44"/>
<line x1="638.4" y1="1337.7" x2="638.4" y2="1608.5" stroke="#666666" stroke-width="3.5" stroke-linecap="butt"/>
<line x1="627.3" y1="1339.4" x2="638.4" y2="1339.4" stroke="#666666" stroke-width="3.5" stroke-linecap="butt"/>
<text x="622.3" y="1346.9" font-size="20" text-anchor="end" font-weight="bold" fill="#333333" >4000</text>
<line x1="627.3" y1="1406.0" x2="638.4" y2="1406.0" stroke="#666666" stroke-width="3.5" stroke-linecap="butt"/>
<text x="622.3" y="1413.5" font-size="20" text-anchor="end" font-weight="bold" fill="#333333" >3000</text>
<line x1="627.3" y1="1472.8" x2="638.4" y2="1472.8" stroke="#666666" stroke-width="3.5" stroke-linecap="butt"/>
<text x="622.3" y="1480.3" font-size="20" text-anchor="end" font-weight="bold" fill="#333333" >2000</text>
<line x1="627.3" y1="1539.4" x2="638.4" y2="1539.4" stroke="#666666" stroke-width="3.5" stroke-linecap="butt"/>
<text x="622.3" y="1546.9" font-size="20" text-anchor="end" font-weight="bold" fill="#333333" >1000</text>
<line x1="627.3" y1="1606.7" x2="638.4" y2="1606.7" stroke="#666666" stroke-width="3.5" stroke-linecap="butt"/>
<text x="622.3" y="1614.2" font-size="20" text-anchor="end" font-weight="bold" fill="#333333" >0</text>
<line x1="627.3" y1="1606.7" x2="905.0" y2="1606.7" stroke="#666666" stroke-width="3.5" stroke-linecap="butt"/>
<line x1="714.0" y1="1606.7" x2="714.0" y2="1617.7" stroke="#666666" stroke-width="3.5" stroke-linecap="butt"/>
<text x="714.0" y="1639.4" font-size="20.5" text-anchor="middle" font-weight="bold" fill="#333333" >Good</text>
<line x1="827.8" y1="1606.7" x2="827.8" y2="1617.7" stroke="#666666" stroke-width="3.5" stroke-linecap="butt"/>
<text x="827.8" y="1639.4" font-size="20.5" text-anchor="middle" font-weight="bold" fill="#333333" >Bad</text>
<text x="769.7" y="1305.6" font-size="22" text-anchor="middle" font-weight="bold" fill="#333333" >Awake LF</text>
<text x="0" y="0" font-size="21" text-anchor="middle" font-weight="bold" fill="#333333" transform="translate(564.5,1474.0) rotate(-90)">ms<tspan font-size="13" dy="-9">2</tspan></text>
<line x1="1233.2" y1="1341.7" x2="1233.2" y2="1556.0" stroke="#8e8e8e" stroke-width="2.0" stroke-linecap="butt"/>
<line x1="1347.3" y1="1557.3" x2="1347.3" y2="1581.0" stroke="#8e8e8e" stroke-width="2.0" stroke-linecap="butt"/>
<path d="M1236.70,1557.00 C1236.78,1558.27 1236.95,1562.13 1237.20,1564.60 C1237.45,1567.07 1237.53,1569.38 1238.20,1571.80 C1238.87,1574.22 1241.20,1576.90 1241.20,1579.10 C1241.20,1581.30 1236.98,1583.30 1238.20,1585.00 C1239.42,1586.70 1244.83,1587.85 1248.50,1589.30 C1252.17,1590.75 1257.08,1592.25 1260.20,1593.70 C1263.32,1595.15 1265.58,1596.78 1267.20,1598.00 C1268.82,1599.22 1269.98,1600.00 1269.90,1601.00 C1269.82,1602.00 1267.23,1603.50 1266.70,1604.00 L1199.70,1604.00 C1199.17,1603.50 1196.58,1602.00 1196.50,1601.00 C1196.42,1600.00 1197.58,1599.22 1199.20,1598.00 C1200.82,1596.78 1203.08,1595.15 1206.20,1593.70 C1209.32,1592.25 1214.23,1590.75 1217.90,1589.30 C1221.57,1587.85 1226.98,1586.70 1228.20,1585.00 C1229.42,1583.30 1225.20,1581.30 1225.20,1579.10 C1225.20,1576.90 1227.53,1574.22 1228.20,1571.80 C1228.87,1569.38 1228.95,1567.07 1229.20,1564.60 C1229.45,1562.13 1229.62,1558.27 1229.70,1557.00 Q1233.20,1554.60 1236.70,1557.00 Z" fill="#00FFFF" stroke="#1d5555" stroke-width="1.8" stroke-linejoin="round"/>
<path d="M1348.40,1582.00 C1349.43,1582.50 1353.33,1583.53 1354.60,1585.00 C1355.87,1586.47 1353.58,1588.87 1356.00,1590.80 C1358.42,1592.73 1365.22,1594.90 1369.10,1596.60 C1372.98,1598.30 1376.82,1599.55 1379.30,1601.00 C1381.78,1602.45 1383.22,1604.58 1384.00,1605.30 L1310.60,1605.30 C1311.38,1604.58 1312.82,1602.45 1315.30,1601.00 C1317.78,1599.55 1321.62,1598.30 1325.50,1596.60 C1329.38,1594.90 1336.18,1592.73 1338.60,1590.80 C1341.02,1588.87 1338.73,1586.47 1340.00,1585.00 C1341.27,1583.53 1345.17,1582.50 1346.20,1582.00 Q1347.30,1579.60 1348.40,1582.00 Z" fill="#FF1A30" stroke="#4a0c14" stroke-width="1.8" stroke-linejoin="round"/>
<ellipse cx="1233.2" cy="1483.8" rx="1.8" ry="2.6" fill="#555555"/>
<ellipse cx="1233.2" cy="1541.3" rx="1.8" ry="2.6" fill="#555555"/>
<ellipse cx="1347.3" cy="1557.5" rx="1.8" ry="2.6" fill="#555555"/>
<line x1="1157.8" y1="1337.7" x2="1157.8" y2="1608.5" stroke="#666666" stroke-width="3.5" stroke-linecap="butt"/>
<line x1="1146.7" y1="1339.4" x2="1157.8" y2="1339.4" stroke="#666666" stroke-width="3.5" stroke-linecap="butt"/>
<text x="1141.7" y="1346.9" font-size="20" text-anchor="end" font-weight="bold" fill="#333333" >8000</text>
<line x1="1146.7" y1="1406.0" x2="1157.8" y2="1406.0" stroke="#666666" stroke-width="3.5" stroke-linecap="butt"/>
<text x="1141.7" y="1413.5" font-size="20" text-anchor="end" font-weight="bold" fill="#333333" >6000</text>
<line x1="1146.7" y1="1472.8" x2="1157.8" y2="1472.8" stroke="#666666" stroke-width="3.5" stroke-linecap="butt"/>
<text x="1141.7" y="1480.3" font-size="20" text-anchor="end" font-weight="bold" fill="#333333" >4000</text>
<line x1="1146.7" y1="1539.4" x2="1157.8" y2="1539.4" stroke="#666666" stroke-width="3.5" stroke-linecap="butt"/>
<text x="1141.7" y="1546.9" font-size="20" text-anchor="end" font-weight="bold" fill="#333333" >2000</text>
<line x1="1146.7" y1="1606.7" x2="1157.8" y2="1606.7" stroke="#666666" stroke-width="3.5" stroke-linecap="butt"/>
<text x="1141.7" y="1614.2" font-size="20" text-anchor="end" font-weight="bold" fill="#333333" >0</text>
<line x1="1146.7" y1="1606.7" x2="1423.0" y2="1606.7" stroke="#666666" stroke-width="3.5" stroke-linecap="butt"/>
<line x1="1233.6" y1="1606.7" x2="1233.6" y2="1617.7" stroke="#666666" stroke-width="3.5" stroke-linecap="butt"/>
<text x="1233.6" y="1639.4" font-size="20.5" text-anchor="middle" font-weight="bold" fill="#333333" >Good</text>
<line x1="1347.0" y1="1606.7" x2="1347.0" y2="1617.7" stroke="#666666" stroke-width="3.5" stroke-linecap="butt"/>
<text x="1347.0" y="1639.4" font-size="20.5" text-anchor="middle" font-weight="bold" fill="#333333" >Bad</text>
<text x="1290.0" y="1305.6" font-size="22" text-anchor="middle" font-weight="bold" fill="#333333" >Asleep LF</text>
<text x="0" y="0" font-size="21" text-anchor="middle" font-weight="bold" fill="#333333" transform="translate(1084.0,1474.0) rotate(-90)">ms<tspan font-size="13" dy="-9">2</tspan></text>
<path d="M195.40,1781.00 C195.40,1795.17 195.03,1850.83 195.40,1866.00 C195.77,1881.17 197.12,1868.50 197.60,1872.00 C198.08,1875.50 197.98,1882.72 198.30,1887.00 C198.62,1891.28 198.67,1894.15 199.50,1897.70 C200.33,1901.25 201.60,1904.75 203.30,1908.30 C205.00,1911.85 208.10,1916.33 209.70,1919.00 C211.30,1921.67 211.97,1922.53 212.90,1924.30 C213.83,1926.07 214.63,1926.98 215.30,1929.60 C215.97,1932.22 216.23,1936.45 216.90,1940.00 C217.57,1943.55 218.63,1947.32 219.30,1950.90 C219.97,1954.48 219.57,1958.32 220.90,1961.50 C222.23,1964.68 225.35,1967.35 227.30,1970.00 C229.25,1972.65 232.17,1974.40 232.60,1977.40 C233.03,1980.40 231.85,1984.45 229.90,1988.00 C227.95,1991.55 223.67,1996.03 220.90,1998.70 C218.13,2001.37 215.23,2001.33 213.30,2004.00 C211.37,2006.67 210.70,2011.95 209.30,2014.70 C207.90,2017.45 205.63,2019.53 204.90,2020.50 L183.70,2020.50 C182.97,2019.53 180.70,2017.45 179.30,2014.70 C177.90,2011.95 177.23,2006.67 175.30,2004.00 C173.37,2001.33 170.47,2001.37 167.70,1998.70 C164.93,1996.03 160.65,1991.55 158.70,1988.00 C156.75,1984.45 155.57,1980.40 156.00,1977.40 C156.43,1974.40 159.35,1972.65 161.30,1970.00 C163.25,1967.35 166.37,1964.68 167.70,1961.50 C169.03,1958.32 168.63,1954.48 169.30,1950.90 C169.97,1947.32 171.03,1943.55 171.70,1940.00 C172.37,1936.45 172.63,1932.22 173.30,1929.60 C173.97,1926.98 174.77,1926.07 175.70,1924.30 C176.63,1922.53 177.30,1921.67 178.90,1919.00 C180.50,1916.33 183.60,1911.85 185.30,1908.30 C187.00,1904.75 188.27,1901.25 189.10,1897.70 C189.93,1894.15 189.98,1891.28 190.30,1887.00 C190.62,1882.72 190.52,1875.50 191.00,1872.00 C191.48,1868.50 192.83,1881.17 193.20,1866.00 C193.57,1850.83 193.20,1795.17 193.20,1781.00 Q194.30,1778.76 195.40,1781.00 Z" fill="#00FFFF" stroke="#1a8c8c" stroke-width="1.4" stroke-linejoin="round"/>
<line x1="194.30" y1="1779.60" x2="194.30" y2="1866.00" stroke="#a4a4a4" stroke-width="3.0" stroke-linecap="round"/>
<line x1="173.2" y1="1940.2" x2="215.4" y2="1940.2" stroke="#14c4c4" stroke-width="1.6" stroke-dasharray="3,1.5"/>
<line x1="162.8" y1="1970.0" x2="225.8" y2="1970.0" stroke="#14c4c4" stroke-width="1.6" stroke-dasharray="3,1.5"/>
<line x1="164.7" y1="1993.4" x2="223.9" y2="1993.4" stroke="#14c4c4" stroke-width="1.6" stroke-dasharray="3,1.5"/>
<path d="M309.90,1906.50 C310.67,1908.60 313.23,1914.57 314.50,1919.10 C315.77,1923.63 316.63,1929.45 317.50,1933.70 C318.37,1937.95 318.12,1941.58 319.70,1944.60 C321.28,1947.62 324.93,1949.38 327.00,1951.80 C329.07,1954.22 331.07,1957.27 332.10,1959.10 C333.13,1960.93 333.82,1960.98 333.20,1962.80 C332.58,1964.62 330.22,1967.58 328.40,1970.00 C326.58,1972.42 322.30,1974.87 322.30,1977.30 C322.30,1979.73 325.32,1982.17 328.40,1984.60 C331.48,1987.03 337.90,1989.48 340.80,1991.90 C343.70,1994.32 344.70,1996.68 345.80,1999.10 C346.90,2001.52 347.82,2003.97 347.40,2006.40 C346.98,2008.83 345.48,2011.52 343.30,2013.70 C341.12,2015.88 336.72,2018.20 334.30,2019.50 C331.88,2020.80 329.72,2021.17 328.80,2021.50 L288.80,2021.50 C287.88,2021.17 285.72,2020.80 283.30,2019.50 C280.88,2018.20 276.48,2015.88 274.30,2013.70 C272.12,2011.52 270.62,2008.83 270.20,2006.40 C269.78,2003.97 270.70,2001.52 271.80,1999.10 C272.90,1996.68 273.90,1994.32 276.80,1991.90 C279.70,1989.48 286.12,1987.03 289.20,1984.60 C292.28,1982.17 295.30,1979.73 295.30,1977.30 C295.30,1974.87 291.02,1972.42 289.20,1970.00 C287.38,1967.58 285.02,1964.62 284.40,1962.80 C283.78,1960.98 284.47,1960.93 285.50,1959.10 C286.53,1957.27 288.53,1954.22 290.60,1951.80 C292.67,1949.38 296.32,1947.62 297.90,1944.60 C299.48,1941.58 299.23,1937.95 300.10,1933.70 C300.97,1929.45 301.83,1923.63 303.10,1919.10 C304.37,1914.57 306.93,1908.60 307.70,1906.50 Q308.80,1904.58 309.90,1906.50 Z" fill="#FF1A30" stroke="#7a1020" stroke-width="1.4" stroke-linejoin="round"/>
<ellipse cx="194.3" cy="1784.0" rx="2.0" ry="4.5" fill="#6c6c6c"/>
<ellipse cx="194.3" cy="1832.0" rx="2.0" ry="8" fill="#74807f"/>
<ellipse cx="194.3" cy="1860.0" rx="2.0" ry="9" fill="#748080"/>
<line x1="118.0" y1="1753.2" x2="118.0" y2="2024.8" stroke="#666666" stroke-width="3.5" stroke-linecap="butt"/>
<line x1="107.0" y1="1755.0" x2="118.0" y2="1755.0" stroke="#666666" stroke-width="3.5" stroke-linecap="butt"/>
<text x="102.0" y="1762.5" font-size="20" text-anchor="end" font-weight="bold" fill="#333333" >5000</text>
<line x1="107.0" y1="1809.2" x2="118.0" y2="1809.2" stroke="#666666" stroke-width="3.5" stroke-linecap="butt"/>
<text x="102.0" y="1816.7" font-size="20" text-anchor="end" font-weight="bold" fill="#333333" >4000</text>
<line x1="107.0" y1="1862.8" x2="118.0" y2="1862.8" stroke="#666666" stroke-width="3.5" stroke-linecap="butt"/>
<text x="102.0" y="1870.3" font-size="20" text-anchor="end" font-weight="bold" fill="#333333" >3000</text>
<line x1="107.0" y1="1916.0" x2="118.0" y2="1916.0" stroke="#666666" stroke-width="3.5" stroke-linecap="butt"/>
<text x="102.0" y="1923.5" font-size="20" text-anchor="end" font-weight="bold" fill="#333333" >2000</text>
<line x1="107.0" y1="1970.3" x2="118.0" y2="1970.3" stroke="#666666" stroke-width="3.5" stroke-linecap="butt"/>
<text x="102.0" y="1977.8" font-size="20" text-anchor="end" font-weight="bold" fill="#333333" >1000</text>
<line x1="107.0" y1="2023.0" x2="118.0" y2="2023.0" stroke="#666666" stroke-width="3.5" stroke-linecap="butt"/>
<text x="102.0" y="2030.5" font-size="20" text-anchor="end" font-weight="bold" fill="#333333" >0</text>
<line x1="107.0" y1="2023.0" x2="386.0" y2="2023.0" stroke="#666666" stroke-width="3.5" stroke-linecap="butt"/>
<line x1="194.4" y1="2023.0" x2="194.4" y2="2034.0" stroke="#666666" stroke-width="3.5" stroke-linecap="butt"/>
<text x="194.4" y="2056.5" font-size="20.5" text-anchor="middle" font-weight="bold" fill="#333333" >Good</text>
<line x1="308.9" y1="2023.0" x2="308.9" y2="2034.0" stroke="#666666" stroke-width="3.5" stroke-linecap="butt"/>
<text x="308.9" y="2056.5" font-size="20.5" text-anchor="middle" font-weight="bold" fill="#333333" >Bad</text>
<text x="251.9" y="1723.0" font-size="22" text-anchor="middle" font-weight="bold" fill="#333333" >VLF</text>
<text x="0" y="0" font-size="21" text-anchor="middle" font-weight="bold" fill="#333333" transform="translate(44.2,1890.0) rotate(-90)">ms<tspan font-size="13" dy="-9">2</tspan></text>
<path d="M714.10,1791.00 C714.10,1792.50 713.73,1797.67 714.10,1800.00 C714.47,1802.33 715.85,1803.00 716.30,1805.00 C716.75,1807.00 716.72,1808.50 716.80,1812.00 C716.88,1815.50 716.88,1822.50 716.80,1826.00 C716.72,1829.50 716.75,1831.00 716.30,1833.00 C715.85,1835.00 714.47,1831.50 714.10,1838.00 C713.73,1844.50 713.72,1865.33 714.10,1872.00 C714.48,1878.67 715.88,1876.28 716.40,1878.00 C716.92,1879.72 716.53,1879.87 717.20,1882.30 C717.87,1884.73 718.97,1889.18 720.40,1892.60 C721.83,1896.02 723.87,1899.40 725.80,1902.80 C727.73,1906.20 730.47,1909.58 732.00,1913.00 C733.53,1916.42 734.63,1919.88 735.00,1923.30 C735.37,1926.72 733.65,1930.10 734.20,1933.50 C734.75,1936.90 736.55,1940.28 738.30,1943.70 C740.05,1947.12 742.95,1950.58 744.70,1954.00 C746.45,1957.42 747.68,1960.80 748.80,1964.20 C749.92,1967.60 751.45,1971.00 751.40,1974.40 C751.35,1977.80 750.40,1981.18 748.50,1984.60 C746.60,1988.02 742.25,1991.50 740.00,1994.90 C737.75,1998.30 736.52,2001.60 735.00,2005.00 C733.48,2008.40 732.10,2012.80 730.90,2015.30 C729.70,2017.80 728.32,2019.22 727.80,2020.00 L698.20,2020.00 C697.68,2019.22 696.30,2017.80 695.10,2015.30 C693.90,2012.80 692.52,2008.40 691.00,2005.00 C689.48,2001.60 688.25,1998.30 686.00,1994.90 C683.75,1991.50 679.40,1988.02 677.50,1984.60 C675.60,1981.18 674.65,1977.80 674.60,1974.40 C674.55,1971.00 676.08,1967.60 677.20,1964.20 C678.32,1960.80 679.55,1957.42 681.30,1954.00 C683.05,1950.58 685.95,1947.12 687.70,1943.70 C689.45,1940.28 691.25,1936.90 691.80,1933.50 C692.35,1930.10 690.63,1926.72 691.00,1923.30 C691.37,1919.88 692.47,1916.42 694.00,1913.00 C695.53,1909.58 698.27,1906.20 700.20,1902.80 C702.13,1899.40 704.17,1896.02 705.60,1892.60 C707.03,1889.18 708.13,1884.73 708.80,1882.30 C709.47,1879.87 709.08,1879.72 709.60,1878.00 C710.12,1876.28 711.52,1878.67 711.90,1872.00 C712.28,1865.33 712.27,1844.50 711.90,1838.00 C711.53,1831.50 710.15,1835.00 709.70,1833.00 C709.25,1831.00 709.28,1829.50 709.20,1826.00 C709.12,1822.50 709.12,1815.50 709.20,1812.00 C709.28,1808.50 709.25,1807.00 709.70,1805.00 C710.15,1803.00 711.53,1802.33 711.90,1800.00 C712.27,1797.67 711.90,1792.50 711.90,1791.00 Q713.00,1788.92 714.10,1791.00 Z" fill="#00FFFF" stroke="#1a8c8c" stroke-width="1.4" stroke-linejoin="round"/>
<line x1="713.00" y1="1789.70" x2="713.00" y2="1800.00" stroke="#6e6e6e" stroke-width="3.0" stroke-linecap="round"/>
<line x1="713.00" y1="1838.00" x2="713.00" y2="1872.00" stroke="#6e6e6e" stroke-width="3.0" stroke-linecap="round"/>
<line x1="693.0" y1="1929.4" x2="733.0" y2="1929.4" stroke="#14c4c4" stroke-width="1.6" stroke-dasharray="3,1.5"/>
<line x1="678.6" y1="1964.6" x2="747.4" y2="1964.6" stroke="#14c4c4" stroke-width="1.6" stroke-dasharray="3,1.5"/>
<line x1="678.7" y1="1983.6" x2="747.3" y2="1983.6" stroke="#14c4c4" stroke-width="1.6" stroke-dasharray="3,1.5"/>
<path d="M830.20,1875.00 C830.23,1875.67 830.78,1877.50 830.40,1879.00 C830.02,1880.50 828.32,1882.17 827.90,1884.00 C827.48,1885.83 827.90,1887.33 827.90,1890.00 C827.90,1892.67 827.53,1897.50 827.90,1900.00 C828.27,1902.50 829.13,1902.50 830.10,1905.00 C831.07,1907.50 832.50,1911.67 833.70,1915.00 C834.90,1918.33 836.02,1922.17 837.30,1925.00 C838.58,1927.83 840.15,1929.67 841.40,1932.00 C842.65,1934.33 844.18,1937.00 844.80,1939.00 C845.42,1941.00 845.23,1942.33 845.10,1944.00 C844.97,1945.67 844.13,1946.83 844.00,1949.00 C843.87,1951.17 844.00,1954.17 844.30,1957.00 C844.60,1959.83 845.38,1963.00 845.80,1966.00 C846.22,1969.00 846.38,1972.07 846.80,1975.00 C847.22,1977.93 847.33,1980.77 848.30,1983.60 C849.27,1986.43 850.73,1989.13 852.60,1992.00 C854.47,1994.87 857.63,1998.20 859.50,2000.80 C861.37,2003.40 863.17,2005.73 863.80,2007.60 C864.43,2009.47 863.88,2010.60 863.30,2012.00 C862.72,2013.40 861.80,2014.58 860.30,2016.00 C858.80,2017.42 855.30,2019.75 854.30,2020.50 L799.30,2020.50 C798.30,2019.75 794.80,2017.42 793.30,2016.00 C791.80,2014.58 790.88,2013.40 790.30,2012.00 C789.72,2010.60 789.17,2009.47 789.80,2007.60 C790.43,2005.73 792.23,2003.40 794.10,2000.80 C795.97,1998.20 799.13,1994.87 801.00,1992.00 C802.87,1989.13 804.33,1986.43 805.30,1983.60 C806.27,1980.77 806.38,1977.93 806.80,1975.00 C807.22,1972.07 807.38,1969.00 807.80,1966.00 C808.22,1963.00 809.00,1959.83 809.30,1957.00 C809.60,1954.17 809.73,1951.17 809.60,1949.00 C809.47,1946.83 808.63,1945.67 808.50,1944.00 C808.37,1942.33 808.18,1941.00 808.80,1939.00 C809.42,1937.00 810.95,1934.33 812.20,1932.00 C813.45,1929.67 815.02,1927.83 816.30,1925.00 C817.58,1922.17 818.70,1918.33 819.90,1915.00 C821.10,1911.67 822.53,1907.50 823.50,1905.00 C824.47,1902.50 825.33,1902.50 825.70,1900.00 C826.07,1897.50 825.70,1892.67 825.70,1890.00 C825.70,1887.33 826.12,1885.83 825.70,1884.00 C825.28,1882.17 823.58,1880.50 823.20,1879.00 C822.82,1877.50 823.37,1875.67 823.40,1875.00 Q826.80,1873.08 830.20,1875.00 Z" fill="#FF1A30" stroke="#7a1020" stroke-width="1.4" stroke-linejoin="round"/>
<line x1="826.80" y1="1884.00" x2="826.80" y2="1900.00" stroke="#6e6e6e" stroke-width="3.0" stroke-linecap="round"/>
<line x1="637.6" y1="1754.7" x2="637.6" y2="2024.8" stroke="#666666" stroke-width="3.5" stroke-linecap="butt"/>
<line x1="625.9" y1="1756.4" x2="637.6" y2="1756.4" stroke="#666666" stroke-width="3.5" stroke-linecap="butt"/>
<text x="620.9" y="1763.9" font-size="20" text-anchor="end" font-weight="bold" fill="#333333" >4000</text>
<line x1="625.9" y1="1823.0" x2="637.6" y2="1823.0" stroke="#666666" stroke-width="3.5" stroke-linecap="butt"/>
<text x="620.9" y="1830.5" font-size="20" text-anchor="end" font-weight="bold" fill="#333333" >3000</text>
<line x1="625.9" y1="1889.7" x2="637.6" y2="1889.7" stroke="#666666" stroke-width="3.5" stroke-linecap="butt"/>
<text x="620.9" y="1897.2" font-size="20" text-anchor="end" font-weight="bold" fill="#333333" >2000</text>
<line x1="625.9" y1="1956.4" x2="637.6" y2="1956.4" stroke="#666666" stroke-width="3.5" stroke-linecap="butt"/>
<text x="620.9" y="1963.9" font-size="20" text-anchor="end" font-weight="bold" fill="#333333" >1000</text>
<line x1="625.9" y1="2023.0" x2="637.6" y2="2023.0" stroke="#666666" stroke-width="3.5" stroke-linecap="butt"/>
<text x="620.9" y="2030.5" font-size="20" text-anchor="end" font-weight="bold" fill="#333333" >0</text>
<line x1="625.9" y1="2023.0" x2="904.0" y2="2023.0" stroke="#666666" stroke-width="3.5" stroke-linecap="butt"/>
<line x1="712.6" y1="2023.0" x2="712.6" y2="2034.0" stroke="#666666" stroke-width="3.5" stroke-linecap="butt"/>
<text x="712.6" y="2056.5" font-size="20.5" text-anchor="middle" font-weight="bold" fill="#333333" >Good</text>
<line x1="826.7" y1="2023.0" x2="826.7" y2="2034.0" stroke="#666666" stroke-width="3.5" stroke-linecap="butt"/>
<text x="826.7" y="2056.5" font-size="20.5" text-anchor="middle" font-weight="bold" fill="#333333" >Bad</text>
<text x="769.7" y="1723.0" font-size="22" text-anchor="middle" font-weight="bold" fill="#333333" >Awake VLF</text>
<text x="0" y="0" font-size="21" text-anchor="middle" font-weight="bold" fill="#333333" transform="translate(564.5,1890.0) rotate(-90)">ms<tspan font-size="13" dy="-9">2</tspan></text>
<line x1="1233.2" y1="1814.7" x2="1233.2" y2="1890.0" stroke="#8e8e8e" stroke-width="2.0" stroke-linecap="butt"/>
<path d="M1234.30,1891.00 C1234.30,1892.50 1234.30,1897.12 1234.30,1900.00 C1234.30,1902.88 1234.30,1906.13 1234.30,1908.30 C1234.30,1910.47 1233.78,1910.65 1234.30,1913.00 C1234.82,1915.35 1236.42,1919.27 1237.40,1922.40 C1238.38,1925.53 1239.33,1928.67 1240.20,1931.80 C1241.07,1934.93 1241.73,1938.05 1242.60,1941.20 C1243.47,1944.35 1244.38,1947.57 1245.40,1950.70 C1246.42,1953.83 1247.12,1957.18 1248.70,1960.00 C1250.28,1962.82 1252.23,1965.23 1254.90,1967.60 C1257.57,1969.97 1262.12,1971.53 1264.70,1974.20 C1267.28,1976.87 1269.73,1980.47 1270.40,1983.60 C1271.07,1986.73 1269.65,1990.17 1268.70,1993.00 C1267.75,1995.83 1267.00,1998.23 1264.70,2000.60 C1262.40,2002.97 1257.87,2004.53 1254.90,2007.20 C1251.93,2009.87 1248.78,2014.22 1246.90,2016.60 C1245.02,2018.98 1244.15,2020.68 1243.60,2021.50 L1222.80,2021.50 C1222.25,2020.68 1221.38,2018.98 1219.50,2016.60 C1217.62,2014.22 1214.47,2009.87 1211.50,2007.20 C1208.53,2004.53 1204.00,2002.97 1201.70,2000.60 C1199.40,1998.23 1198.65,1995.83 1197.70,1993.00 C1196.75,1990.17 1195.33,1986.73 1196.00,1983.60 C1196.67,1980.47 1199.12,1976.87 1201.70,1974.20 C1204.28,1971.53 1208.83,1969.97 1211.50,1967.60 C1214.17,1965.23 1216.12,1962.82 1217.70,1960.00 C1219.28,1957.18 1219.98,1953.83 1221.00,1950.70 C1222.02,1947.57 1222.93,1944.35 1223.80,1941.20 C1224.67,1938.05 1225.33,1934.93 1226.20,1931.80 C1227.07,1928.67 1228.02,1925.53 1229.00,1922.40 C1229.98,1919.27 1231.58,1915.35 1232.10,1913.00 C1232.62,1910.65 1232.10,1910.47 1232.10,1908.30 C1232.10,1906.13 1232.10,1902.88 1232.10,1900.00 C1232.10,1897.12 1232.10,1892.50 1232.10,1891.00 Q1233.20,1888.60 1234.30,1891.00 Z" fill="#00FFFF" stroke="#1a8c8c" stroke-width="1.4" stroke-linejoin="round"/>
<line x1="1233.20" y1="1889.50" x2="1233.20" y2="1913.00" stroke="#6e6e6e" stroke-width="3.0" stroke-linecap="round"/>
<line x1="1197.7" y1="1984.6" x2="1268.7" y2="1984.6" stroke="#14c4c4" stroke-width="1.6" stroke-dasharray="3,1.5"/>
<path d="M1353.00,1946.80 C1353.63,1946.92 1355.97,1946.67 1356.80,1947.50 C1357.63,1948.33 1357.80,1949.27 1358.00,1951.80 C1358.20,1954.33 1357.10,1960.03 1358.00,1962.70 C1358.90,1965.37 1361.97,1965.73 1363.40,1967.80 C1364.83,1969.87 1366.67,1972.67 1366.60,1975.10 C1366.53,1977.53 1363.97,1979.97 1363.00,1982.40 C1362.03,1984.83 1360.25,1987.52 1360.80,1989.70 C1361.35,1991.88 1363.77,1993.32 1366.30,1995.50 C1368.83,1997.68 1373.03,2000.38 1376.00,2002.80 C1378.97,2005.22 1383.35,2007.58 1384.10,2010.00 C1384.85,2012.42 1382.75,2015.38 1380.50,2017.30 C1378.25,2019.22 1372.25,2020.80 1370.60,2021.50 L1323.40,2021.50 C1321.75,2020.80 1315.75,2019.22 1313.50,2017.30 C1311.25,2015.38 1309.15,2012.42 1309.90,2010.00 C1310.65,2007.58 1315.03,2005.22 1318.00,2002.80 C1320.97,2000.38 1325.17,1997.68 1327.70,1995.50 C1330.23,1993.32 1332.65,1991.88 1333.20,1989.70 C1333.75,1987.52 1331.97,1984.83 1331.00,1982.40 C1330.03,1979.97 1327.47,1977.53 1327.40,1975.10 C1327.33,1972.67 1329.17,1969.87 1330.60,1967.80 C1332.03,1965.73 1335.10,1965.37 1336.00,1962.70 C1336.90,1960.03 1335.80,1954.33 1336.00,1951.80 C1336.20,1949.27 1336.37,1948.33 1337.20,1947.50 C1338.03,1946.67 1340.37,1946.92 1341.00,1946.80 Q1347.00,1946.32 1353.00,1946.80 Z" fill="#FF1A30" stroke="#7a1020" stroke-width="1.4" stroke-linejoin="round"/>
<ellipse cx="1233.2" cy="1815.5" rx="2.6" ry="3.4" fill="#707070"/>
<ellipse cx="1233.2" cy="1899.0" rx="2.6" ry="9" fill="#858585"/>
<line x1="1157.2" y1="1754.7" x2="1157.2" y2="2024.8" stroke="#666666" stroke-width="3.5" stroke-linecap="butt"/>
<line x1="1146.7" y1="1756.4" x2="1157.2" y2="1756.4" stroke="#666666" stroke-width="3.5" stroke-linecap="butt"/>
<text x="1141.7" y="1763.9" font-size="20" text-anchor="end" font-weight="bold" fill="#333333" >8000</text>
<line x1="1146.7" y1="1823.0" x2="1157.2" y2="1823.0" stroke="#666666" stroke-width="3.5" stroke-linecap="butt"/>
<text x="1141.7" y="1830.5" font-size="20" text-anchor="end" font-weight="bold" fill="#333333" >6000</text>
<line x1="1146.7" y1="1889.7" x2="1157.2" y2="1889.7" stroke="#666666" stroke-width="3.5" stroke-linecap="butt"/>
<text x="1141.7" y="1897.2" font-size="20" text-anchor="end" font-weight="bold" fill="#333333" >4000</text>
<line x1="1146.7" y1="1956.4" x2="1157.2" y2="1956.4" stroke="#666666" stroke-width="3.5" stroke-linecap="butt"/>
<text x="1141.7" y="1963.9" font-size="20" text-anchor="end" font-weight="bold" fill="#333333" >2000</text>
<line x1="1146.7" y1="2023.0" x2="1157.2" y2="2023.0" stroke="#666666" stroke-width="3.5" stroke-linecap="butt"/>
<text x="1141.7" y="2030.5" font-size="20" text-anchor="end" font-weight="bold" fill="#333333" >0</text>
<line x1="1146.7" y1="2023.0" x2="1424.4" y2="2023.0" stroke="#666666" stroke-width="3.5" stroke-linecap="butt"/>
<line x1="1233.6" y1="2023.0" x2="1233.6" y2="2034.0" stroke="#666666" stroke-width="3.5" stroke-linecap="butt"/>
<text x="1233.6" y="2056.5" font-size="20.5" text-anchor="middle" font-weight="bold" fill="#333333" >Good</text>
<line x1="1347.2" y1="2023.0" x2="1347.2" y2="2034.0" stroke="#666666" stroke-width="3.5" stroke-linecap="butt"/>
<text x="1347.2" y="2056.5" font-size="20.5" text-anchor="middle" font-weight="bold" fill="#333333" >Bad</text>
<text x="1290.1" y="1723.0" font-size="22" text-anchor="middle" font-weight="bold" fill="#333333" >Asleep VLF</text>
<text x="0" y="0" font-size="21" text-anchor="middle" font-weight="bold" fill="#333333" transform="translate(1083.8,1890.0) rotate(-90)">ms<tspan font-size="13" dy="-9">2</tspan></text>
<line x1="309.0" y1="2183.0" x2="309.0" y2="2298.0" stroke="#8e8e8e" stroke-width="2.0" stroke-linecap="butt"/>
<path d="M196.40,2247.50 C196.40,2253.53 195.95,2276.45 196.40,2283.70 C196.85,2290.95 198.62,2287.37 199.10,2291.00 C199.58,2294.63 198.97,2302.48 199.30,2305.50 C199.63,2308.52 199.40,2307.28 201.10,2309.10 C202.80,2310.92 207.07,2313.97 209.50,2316.40 C211.93,2318.83 213.90,2320.67 215.70,2323.70 C217.50,2326.73 218.60,2331.57 220.30,2334.60 C222.00,2337.63 223.95,2339.48 225.90,2341.90 C227.85,2344.32 230.77,2347.17 232.00,2349.10 C233.23,2351.03 234.02,2351.68 233.30,2353.50 C232.58,2355.32 229.85,2357.70 227.70,2360.00 C225.55,2362.30 221.02,2364.27 220.40,2367.30 C219.78,2370.33 224.30,2375.17 224.00,2378.20 C223.70,2381.23 220.95,2383.07 218.60,2385.50 C216.25,2387.93 212.82,2390.38 209.90,2392.80 C206.98,2395.22 203.53,2397.93 201.10,2400.00 C198.67,2402.07 196.27,2404.33 195.30,2405.20 C194.33,2404.33 191.93,2402.07 189.50,2400.00 C187.07,2397.93 183.62,2395.22 180.70,2392.80 C177.78,2390.38 174.35,2387.93 172.00,2385.50 C169.65,2383.07 166.90,2381.23 166.60,2378.20 C166.30,2375.17 170.82,2370.33 170.20,2367.30 C169.58,2364.27 165.05,2362.30 162.90,2360.00 C160.75,2357.70 158.02,2355.32 157.30,2353.50 C156.58,2351.68 157.37,2351.03 158.60,2349.10 C159.83,2347.17 162.75,2344.32 164.70,2341.90 C166.65,2339.48 168.60,2337.63 170.30,2334.60 C172.00,2331.57 173.10,2326.73 174.90,2323.70 C176.70,2320.67 178.67,2318.83 181.10,2316.40 C183.53,2313.97 187.80,2310.92 189.50,2309.10 C191.20,2307.28 190.97,2308.52 191.30,2305.50 C191.63,2302.48 191.02,2294.63 191.50,2291.00 C191.98,2287.37 193.75,2290.95 194.20,2283.70 C194.65,2276.45 194.20,2253.53 194.20,2247.50 Q195.30,2245.90 196.40,2247.50 Z" fill="#00FFFF" stroke="#1a8c8c" stroke-width="1.4" stroke-linejoin="round"/>
<line x1="195.30" y1="2246.50" x2="195.30" y2="2283.70" stroke="#6e6e6e" stroke-width="3.0" stroke-linecap="round"/>
<line x1="168.4" y1="2339.0" x2="222.2" y2="2339.0" stroke="#14c4c4" stroke-width="1.6" stroke-dasharray="3,1.5"/>
<line x1="159.1" y1="2353.9" x2="231.5" y2="2353.9" stroke="#14c4c4" stroke-width="1.6" stroke-dasharray="3,1.5"/>
<line x1="170.5" y1="2371.0" x2="220.1" y2="2371.0" stroke="#14c4c4" stroke-width="1.6" stroke-dasharray="3,1.5"/>
<path d="M310.40,2298.50 C311.30,2299.25 314.60,2301.50 315.80,2303.00 C317.00,2304.50 317.27,2305.93 317.60,2307.50 C317.93,2309.07 318.27,2310.98 317.80,2312.40 C317.33,2313.82 315.58,2314.68 314.80,2316.00 C314.02,2317.32 313.35,2317.63 313.10,2320.30 C312.85,2322.97 313.10,2328.72 313.30,2332.00 C313.50,2335.28 313.87,2337.57 314.30,2340.00 C314.73,2342.43 314.47,2344.40 315.90,2346.60 C317.33,2348.80 320.50,2351.00 322.90,2353.20 C325.30,2355.40 327.73,2357.58 330.30,2359.80 C332.87,2362.02 335.80,2364.55 338.30,2366.50 C340.80,2368.45 343.80,2370.18 345.30,2371.50 C346.80,2372.82 347.85,2373.03 347.30,2374.40 C346.75,2375.77 344.37,2377.72 342.00,2379.70 C339.63,2381.68 335.52,2384.10 333.10,2386.30 C330.68,2388.50 329.05,2390.92 327.50,2392.90 C325.95,2394.88 324.42,2397.32 323.80,2398.20 L294.80,2398.20 C294.18,2397.32 292.65,2394.88 291.10,2392.90 C289.55,2390.92 287.92,2388.50 285.50,2386.30 C283.08,2384.10 278.97,2381.68 276.60,2379.70 C274.23,2377.72 271.85,2375.77 271.30,2374.40 C270.75,2373.03 271.80,2372.82 273.30,2371.50 C274.80,2370.18 277.80,2368.45 280.30,2366.50 C282.80,2364.55 285.73,2362.02 288.30,2359.80 C290.87,2357.58 293.30,2355.40 295.70,2353.20 C298.10,2351.00 301.27,2348.80 302.70,2346.60 C304.13,2344.40 303.87,2342.43 304.30,2340.00 C304.73,2337.57 305.10,2335.28 305.30,2332.00 C305.50,2328.72 305.75,2322.97 305.50,2320.30 C305.25,2317.63 304.58,2317.32 303.80,2316.00 C303.02,2314.68 301.27,2313.82 300.80,2312.40 C300.33,2310.98 300.67,2309.07 301.00,2307.50 C301.33,2305.93 301.60,2304.50 302.80,2303.00 C304.00,2301.50 307.30,2299.25 308.20,2298.50 Q309.30,2296.10 310.40,2298.50 Z" fill="#FF1A30" stroke="#7a1020" stroke-width="1.4" stroke-linejoin="round"/>
<line x1="274.2" y1="2372.4" x2="344.4" y2="2372.4" stroke="#c8142a" stroke-width="1.6" stroke-dasharray="3,1.5"/>
<ellipse cx="309.0" cy="2184.0" rx="3.6" ry="4.4" fill="#7a3040"/>
<line x1="119.4" y1="2159.1" x2="119.4" y2="2430.7" stroke="#666666" stroke-width="3.5" stroke-linecap="butt"/>
<line x1="108.3" y1="2160.8" x2="119.4" y2="2160.8" stroke="#666666" stroke-width="3.5" stroke-linecap="butt"/>
<text x="103.3" y="2168.3" font-size="20" text-anchor="end" font-weight="bold" fill="#333333" >60</text>
<line x1="108.3" y1="2250.6" x2="119.4" y2="2250.6" stroke="#666666" stroke-width="3.5" stroke-linecap="butt"/>
<text x="103.3" y="2258.1" font-size="20" text-anchor="end" font-weight="bold" fill="#333333" >40</text>
<line x1="108.3" y1="2339.4" x2="119.4" y2="2339.4" stroke="#666666" stroke-width="3.5" stroke-linecap="butt"/>
<text x="103.3" y="2346.9" font-size="20" text-anchor="end" font-weight="bold" fill="#333333" >20</text>
<line x1="108.3" y1="2428.9" x2="119.4" y2="2428.9" stroke="#666666" stroke-width="3.5" stroke-linecap="butt"/>
<text x="103.3" y="2436.4" font-size="20" text-anchor="end" font-weight="bold" fill="#333333" >0</text>
<line x1="108.3" y1="2428.9" x2="386.0" y2="2428.9" stroke="#666666" stroke-width="3.5" stroke-linecap="butt"/>
<line x1="195.8" y1="2428.9" x2="195.8" y2="2439.9" stroke="#666666" stroke-width="3.5" stroke-linecap="butt"/>
<text x="195.8" y="2462.2" font-size="20.5" text-anchor="middle" font-weight="bold" fill="#333333" >Good</text>
<line x1="308.9" y1="2428.9" x2="308.9" y2="2439.9" stroke="#666666" stroke-width="3.5" stroke-linecap="butt"/>
<text x="308.9" y="2462.2" font-size="20.5" text-anchor="middle" font-weight="bold" fill="#333333" >Bad</text>
<text x="252.8" y="2127.5" font-size="22" text-anchor="middle" font-weight="bold" fill="#333333" >Triangular Index</text>
<path d="M714.80,2174.00 C714.80,2183.67 714.80,2220.17 714.80,2232.00 C714.80,2243.83 714.80,2240.67 714.80,2245.00 C714.80,2249.33 714.22,2255.17 714.80,2258.00 C715.38,2260.83 717.48,2260.00 718.30,2262.00 C719.12,2264.00 719.18,2265.72 719.70,2270.00 C720.22,2274.28 720.63,2282.10 721.40,2287.70 C722.17,2293.30 723.28,2299.17 724.30,2303.60 C725.32,2308.03 726.17,2310.75 727.50,2314.30 C728.83,2317.85 730.10,2320.47 732.30,2324.90 C734.50,2329.33 738.27,2336.47 740.70,2340.90 C743.13,2345.33 745.02,2348.48 746.90,2351.50 C748.78,2354.52 751.77,2356.35 752.00,2359.00 C752.23,2361.65 749.72,2365.10 748.30,2367.40 C746.88,2369.70 744.33,2370.13 743.50,2372.80 C742.67,2375.47 743.93,2379.87 743.30,2383.40 C742.67,2386.93 741.53,2390.80 739.70,2394.00 C737.87,2397.20 734.77,2400.47 732.30,2402.60 C729.83,2404.73 726.13,2406.10 724.90,2406.80 L702.50,2406.80 C701.27,2406.10 697.57,2404.73 695.10,2402.60 C692.63,2400.47 689.53,2397.20 687.70,2394.00 C685.87,2390.80 684.73,2386.93 684.10,2383.40 C683.47,2379.87 684.73,2375.47 683.90,2372.80 C683.07,2370.13 680.52,2369.70 679.10,2367.40 C677.68,2365.10 675.17,2361.65 675.40,2359.00 C675.63,2356.35 678.62,2354.52 680.50,2351.50 C682.38,2348.48 684.27,2345.33 686.70,2340.90 C689.13,2336.47 692.90,2329.33 695.10,2324.90 C697.30,2320.47 698.57,2317.85 699.90,2314.30 C701.23,2310.75 702.08,2308.03 703.10,2303.60 C704.12,2299.17 705.23,2293.30 706.00,2287.70 C706.77,2282.10 707.18,2274.28 707.70,2270.00 C708.22,2265.72 708.28,2264.00 709.10,2262.00 C709.92,2260.00 712.02,2260.83 712.60,2258.00 C713.18,2255.17 712.60,2249.33 712.60,2245.00 C712.60,2240.67 712.60,2243.83 712.60,2232.00 C712.60,2220.17 712.60,2183.67 712.60,2174.00 Q713.70,2172.08 714.80,2174.00 Z" fill="#00FFFF" stroke="#1a8c8c" stroke-width="1.4" stroke-linejoin="round"/>
<line x1="713.70" y1="2172.80" x2="713.70" y2="2258.00" stroke="#6e6e6e" stroke-width="3.0" stroke-linecap="round"/>
<line x1="696.0" y1="2326.0" x2="731.4" y2="2326.0" stroke="#14c4c4" stroke-width="1.6" stroke-dasharray="3,1.5"/>
<line x1="679.8" y1="2354.7" x2="747.6" y2="2354.7" stroke="#14c4c4" stroke-width="1.6" stroke-dasharray="3,1.5"/>
<line x1="685.5" y1="2376.0" x2="741.9" y2="2376.0" stroke="#14c4c4" stroke-width="1.6" stroke-dasharray="3,1.5"/>
<path d="M830.60,2206.00 C830.68,2206.67 831.12,2208.67 831.10,2210.00 C831.08,2211.33 831.00,2212.75 830.50,2214.00 C830.00,2215.25 828.50,2214.83 828.10,2217.50 C827.70,2220.17 828.10,2225.42 828.10,2230.00 C828.10,2234.58 828.10,2241.17 828.10,2245.00 C828.10,2248.83 827.52,2250.58 828.10,2253.00 C828.68,2255.42 830.12,2256.67 831.60,2259.50 C833.08,2262.33 835.68,2266.92 837.00,2270.00 C838.32,2273.08 838.58,2274.38 839.50,2278.00 C840.42,2281.62 841.25,2287.23 842.50,2291.70 C843.75,2296.17 845.83,2301.42 847.00,2304.80 C848.17,2308.18 848.50,2309.13 849.50,2312.00 C850.50,2314.87 851.95,2317.70 853.00,2322.00 C854.05,2326.30 854.97,2332.87 855.80,2337.80 C856.63,2342.73 857.05,2347.00 858.00,2351.60 C858.95,2356.20 860.43,2361.33 861.50,2365.40 C862.57,2369.47 864.15,2372.73 864.40,2376.00 C864.65,2379.27 864.07,2382.00 863.00,2385.00 C861.93,2388.00 859.83,2390.92 858.00,2394.00 C856.17,2397.08 853.73,2400.42 852.00,2403.50 C850.27,2406.58 848.33,2411.00 847.60,2412.50 L806.40,2412.50 C805.67,2411.00 803.73,2406.58 802.00,2403.50 C800.27,2400.42 797.83,2397.08 796.00,2394.00 C794.17,2390.92 792.07,2388.00 791.00,2385.00 C789.93,2382.00 789.35,2379.27 789.60,2376.00 C789.85,2372.73 791.43,2369.47 792.50,2365.40 C793.57,2361.33 795.05,2356.20 796.00,2351.60 C796.95,2347.00 797.37,2342.73 798.20,2337.80 C799.03,2332.87 799.95,2326.30 801.00,2322.00 C802.05,2317.70 803.50,2314.87 804.50,2312.00 C805.50,2309.13 805.83,2308.18 807.00,2304.80 C808.17,2301.42 810.25,2296.17 811.50,2291.70 C812.75,2287.23 813.58,2281.62 814.50,2278.00 C815.42,2274.38 815.68,2273.08 817.00,2270.00 C818.32,2266.92 820.92,2262.33 822.40,2259.50 C823.88,2256.67 825.32,2255.42 825.90,2253.00 C826.48,2250.58 825.90,2248.83 825.90,2245.00 C825.90,2241.17 825.90,2234.58 825.90,2230.00 C825.90,2225.42 826.30,2220.17 825.90,2217.50 C825.50,2214.83 824.00,2215.25 823.50,2214.00 C823.00,2212.75 822.92,2211.33 822.90,2210.00 C822.88,2208.67 823.32,2206.67 823.40,2206.00 Q827.00,2203.60 830.60,2206.00 Z" fill="#FF1A30" stroke="#7a1020" stroke-width="1.4" stroke-linejoin="round"/>
<line x1="827.00" y1="2217.50" x2="827.00" y2="2253.00" stroke="#6e6e6e" stroke-width="3.0" stroke-linecap="round"/>
<line x1="797.3" y1="2352.5" x2="856.7" y2="2352.5" stroke="#c8142a" stroke-width="1.6" stroke-dasharray="3,1.5"/>
<line x1="638.4" y1="2151.8" x2="638.4" y2="2421.2" stroke="#666666" stroke-width="3.5" stroke-linecap="butt"/>
<line x1="628.0" y1="2153.6" x2="638.4" y2="2153.6" stroke="#666666" stroke-width="3.5" stroke-linecap="butt"/>
<text x="623.0" y="2161.1" font-size="20" text-anchor="end" font-weight="bold" fill="#333333" >8</text>
<line x1="628.0" y1="2220.3" x2="638.4" y2="2220.3" stroke="#666666" stroke-width="3.5" stroke-linecap="butt"/>
<text x="623.0" y="2227.8" font-size="20" text-anchor="end" font-weight="bold" fill="#333333" >6</text>
<line x1="628.0" y1="2287.0" x2="638.4" y2="2287.0" stroke="#666666" stroke-width="3.5" stroke-linecap="butt"/>
<text x="623.0" y="2294.5" font-size="20" text-anchor="end" font-weight="bold" fill="#333333" >4</text>
<line x1="628.0" y1="2353.0" x2="638.4" y2="2353.0" stroke="#666666" stroke-width="3.5" stroke-linecap="butt"/>
<text x="623.0" y="2360.5" font-size="20" text-anchor="end" font-weight="bold" fill="#333333" >2</text>
<line x1="628.0" y1="2419.4" x2="638.4" y2="2419.4" stroke="#666666" stroke-width="3.5" stroke-linecap="butt"/>
<text x="623.0" y="2426.9" font-size="20" text-anchor="end" font-weight="bold" fill="#333333" >0</text>
<line x1="628.0" y1="2419.4" x2="905.0" y2="2419.4" stroke="#666666" stroke-width="3.5" stroke-linecap="butt"/>
<line x1="714.0" y1="2419.4" x2="714.0" y2="2430.4" stroke="#666666" stroke-width="3.5" stroke-linecap="butt"/>
<text x="714.0" y="2453.5" font-size="20.5" text-anchor="middle" font-weight="bold" fill="#333333" >Good</text>
<line x1="827.8" y1="2419.4" x2="827.8" y2="2430.4" stroke="#666666" stroke-width="3.5" stroke-linecap="butt"/>
<text x="827.8" y="2453.5" font-size="20.5" text-anchor="middle" font-weight="bold" fill="#333333" >Bad</text>
<text x="770.7" y="2120.3" font-size="22" text-anchor="middle" font-weight="bold" fill="#333333" >LF/HF ratio</text>
</svg>
</body></html>
